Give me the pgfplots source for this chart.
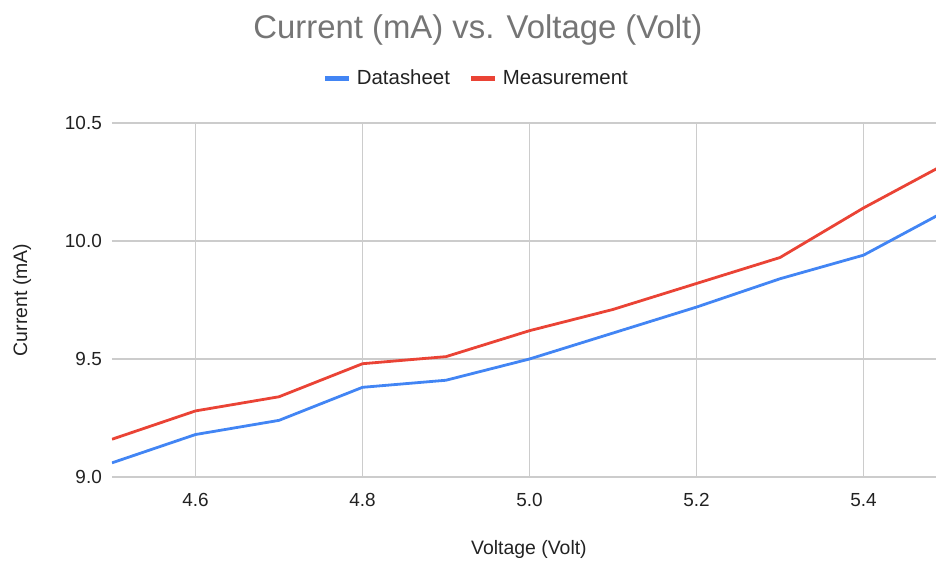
\documentclass[border=0pt]{standalone}
\usepackage{fontspec}
\setmainfont{Liberation Sans}
\usepackage{pgfplots}
\pgfplotsset{compat=1.18}
\definecolor{gblue}{HTML}{4285F4}
\definecolor{gred}{HTML}{EA4335}
\definecolor{ggrid}{HTML}{CCCCCC}
\definecolor{gtitle}{HTML}{757575}
\definecolor{gtext}{HTML}{222222}
\begin{document}
\begin{tikzpicture}
\begin{axis}[
  at={(0,0)}, anchor=south west,
  scale only axis, width=824bp, height=354bp,
  xmin=4.5, xmax=5.4868, ymin=9, ymax=10.5,
  axis line style={draw=none},
  major tick length=0pt,
  grid=major,
  major grid style={ggrid, line width=1.1bp},
  xtick={4.6,4.8,5.0,5.2,5.4},
  xticklabels={4.6,4.8,5.0,5.2,5.4},
  ytick={9,9.5,10,10.5},
  yticklabels={9.0,9.5,10.0,10.5},
  xticklabel style={font=\fontsize{19}{23}\selectfont, text=gtext, anchor=north, inner sep=0pt, yshift=-16bp},
  yticklabel style={font=\fontsize{19}{23}\selectfont, text=gtext, anchor=east, inner sep=0pt, xshift=-10bp},
  xlabel={Voltage (Volt)},
  xlabel style={font=\fontsize{19.5}{23}\selectfont, text=gtext, at={(axis description cs:0.506,-0.206)}, anchor=center},
  ylabel={Current (mA)},
  ylabel style={font=\fontsize{19.5}{23}\selectfont, text=gtext, at={(axis description cs:-0.109,0.5)}, anchor=center},
  title={Current (mA) vs. Voltage (Volt)},
  title style={font=\fontsize{33}{39}\selectfont, text=gtitle, at={(axis description cs:0.444,1.245)}, anchor=center},
  legend columns=2,
  legend style={at={(0.444,1.127)}, anchor=center, draw=none, fill=none,
    font=\fontsize{20.5}{24}\selectfont, text=gtext,
    nodes={inner xsep=5bp},
    /tikz/every even column/.append style={column sep=14bp}},
  legend image code/.code={\draw[#1, line width=5bp] (0bp,0bp) -- (24bp,0bp);},
]
\addplot[gblue, line width=2.8bp] coordinates {
 (4.5,9.06) (4.6,9.18) (4.7,9.24) (4.8,9.38) (4.9,9.41) (5.0,9.50)
 (5.1,9.61) (5.2,9.72) (5.3,9.84) (5.4,9.94) (5.5,10.13)};
\addlegendentry{Datasheet}
\addplot[gred, line width=2.8bp] coordinates {
 (4.5,9.16) (4.6,9.28) (4.7,9.34) (4.8,9.48) (4.9,9.51) (5.0,9.62)
 (5.1,9.71) (5.2,9.82) (5.3,9.93) (5.4,10.14) (5.5,10.33)};
\addlegendentry{Measurement}
\end{axis}
\pgfresetboundingbox
\path (-112bp,-84bp) rectangle (824bp,477bp);
\end{tikzpicture}
\end{document}
